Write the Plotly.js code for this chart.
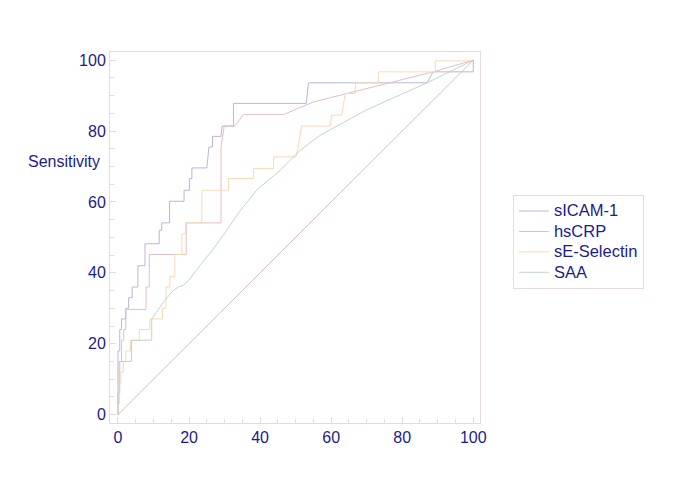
<!DOCTYPE html>
<html>
<head>
<meta charset="utf-8">
<script src="https://cdn.plot.ly/plotly-3.0.1.min.js"></script>
<style>html,body{margin:0;padding:0;background:#fff;}#chart{width:685px;height:480px;}</style>
</head>
<body>
<div id="chart"></div>
<script>
// Series: 100-Specificity (x) vs Sensitivity (y)
const seriesNames = ["sICAM-1", "hsCRP", "sE-Selectin", "SAA"];

const sicamX = [0,0,0.5,0.5,1,1,2.2,2.2,3,3,4,4,5.6,5.6,7.6,7.6,11.6,11.6,12.3,12.3,14.5,14.5,18.6,18.6,20.1,20.1,20.8,20.8,25,25.3,25.6,26.6,26.6,29,29.3,32.5,32.5,53,53.6,87,88.7,100,100];
const sicamY = [0,18,18,24,24,27,27,30,30,33,33,36,36,42,42,48.2,48.2,52,52,54.1,54.1,60.2,60.2,63.3,63.3,66.6,66.6,69.6,69.6,72.5,75.5,75.5,78.5,78.5,81.4,81.4,87.8,87.8,93.6,93.6,96.7,96.7,100];

const hscrpX = [0,0,0.5,0.5,1,1,1.6,1.6,2.2,2.2,7.9,7.9,8.8,8.8,19.2,19.2,29,29,29.9,32.8,35.4,46.7,55,64.4,76.6,88.7,100];
const hscrpY = [0,6,6,15,15,21,21,24,24,29.7,29.7,36,36,45.2,45.2,54.1,54.1,75.5,81.4,81.4,84.7,84.7,88.2,90.6,93.6,96.7,100];

const selectX = [0,0,0.4,0.4,0.8,0.8,1.5,1.5,2.2,2.2,3.5,3.5,6,6,9,9,12.5,12.5,13.5,13.5,14.6,14.6,16,16,18,18,19,19,23.6,23.6,31.1,31.1,38.1,38.1,43.8,43.8,50.1,50.7,51.7,59.7,60.2,63,63.5,64,66.8,66.8,73.3,73.3,89.3,89.3,100];
const selectY = [0,3,3,9,9,12,12,15,15,18,18,21,21,24,24,27,27,30,30,36,36,39,39,45.2,45.2,51,51,54.1,54.1,63.3,63.3,66.6,66.6,69.4,69.4,72.7,72.7,75.5,81.4,81.4,84.5,84.5,87.8,90.6,90.6,93.6,93.6,96.7,96.7,99.8,99.8];

const saaX = [0,0,0.3,0.3,3.8,3.8,9.5,9.5,11.4,13,15.5,17,18.4,20,23.1,27,30.6,34,39,45.6,51.3,56.9,70,87,100];
const saaY = [0,6,6,15,15,21,21,27,29.7,32,35,36,36.5,38,42.1,47,52,57,63.3,68.9,74.6,78.8,86,93.6,100];

const diagX = [0, 100];
const diagY = [0, 100];

const xTickVals = [0, 20, 40, 60, 80, 100];
const yTickVals = [0, 20, 40, 60, 80, 100];

const colors = ["#b9b6da", "#e0bfc6", "#f6dab5", "#bfd7c8"];
const navy = "#1c1c8e";
const frame = "#e8dad7";
const fontFam = "Liberation Sans, Arial, sans-serif";

const data = [
  {x: sicamX, y: sicamY, name: seriesNames[0]},
  {x: hscrpX, y: hscrpY, name: seriesNames[1]},
  {x: selectX, y: selectY, name: seriesNames[2]},
  {x: saaX, y: saaY, name: seriesNames[3]}
].map((t, i) => Object.assign(t, {
  type: "scatter", mode: "lines", line: {color: colors[i], width: 1},
  name: '<span style="font-size:16.5px">' + t.name + '</span>'
}));

data.push({x: diagX, y: diagY, type: "scatter", mode: "lines", showlegend: false, hoverinfo: "skip",
  line: {color: "#d8bec4", width: 1}});

const axisCommon = {
  showgrid: false, zeroline: false, showline: true, mirror: true, linecolor: frame, linewidth: 1,
  ticks: "inside", ticklen: 6, tickcolor: frame, tickwidth: 1,
  tickfont: {family: fontFam, size: 16, color: navy},
  minor: {dtick: 5, ticks: "inside", ticklen: 4, tickcolor: frame, tickwidth: 1}
};

const layout = {
  width: 685, height: 480,
  margin: {l: 110, r: 205, t: 52, b: 57},
  paper_bgcolor: "#fff", plot_bgcolor: "#fff",
  xaxis: Object.assign({}, axisCommon, {range: [-2.25, 101.9], tickvals: xTickVals, ticktext: xTickVals.map(String)}),
  yaxis: Object.assign({}, axisCommon, {range: [-2.35, 102.3], tickvals: yTickVals, ticktext: yTickVals.map(String)}),
  showlegend: true,
  legend: {
    x: 1.089, y: 0.615, xanchor: "left", yanchor: "top",
    bordercolor: frame, borderwidth: 1, bgcolor: "#fff",
    font: {family: fontFam, size: 13.4, color: navy},
    tracegroupgap: 0, itemwidth: 30
  },
  annotations: [{
    text: "Sensitivity", xref: "paper", yref: "paper", x: -0.0216, y: (423 - 161) / 371,
    xanchor: "right", yanchor: "middle", showarrow: false,
    font: {family: fontFam, size: 16, color: navy}
  }]
};

Plotly.newPlot("chart", data, layout, {displayModeBar: false, staticPlot: true});
</script>
</body>
</html>
